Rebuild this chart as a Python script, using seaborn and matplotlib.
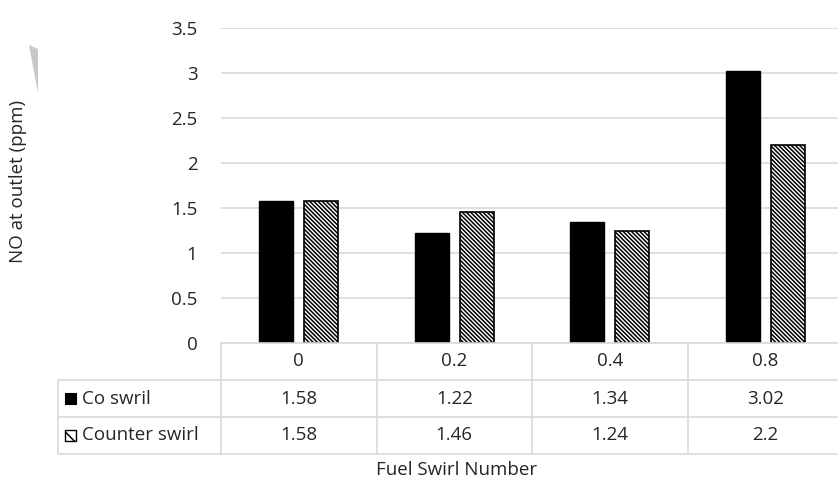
import numpy as np
import pandas as pd
import seaborn as sns
import matplotlib.pyplot as plt
from matplotlib.patches import Rectangle, Polygon

categories = ["0", "0.2", "0.4", "0.8"]
co_swirl = [1.58, 1.22, 1.34, 3.02]
counter_swirl = [1.58, 1.46, 1.24, 2.2]
series_names = ["Co swril", "Counter swirl"]
y_ticks = [0, 0.5, 1, 1.5, 2, 2.5, 3, 3.5]
y_label = "NO at outlet (ppm)"
x_label = "Fuel Swirl Number"

df = pd.DataFrame({
    "cat": categories * 2,
    "val": co_swirl + counter_swirl,
    "series": [series_names[0]] * 4 + [series_names[1]] * 4,
})

sns.set_theme(style="white")
plt.rcParams['font.family'] = ['Open Sans', 'DejaVu Sans']
plt.rcParams['hatch.linewidth'] = 1.1
txt_color = '#262626'
grid_color = '#d9d9d9'
fs = 13.5

W, H = 838, 482
fig = plt.figure(figsize=(W / 100, H / 100), dpi=100)

ax_left, ax_right = 221, 843
ax_top, ax_bottom = 28, 343
ax = fig.add_axes([ax_left / W, 1 - ax_bottom / H, (ax_right - ax_left) / W, (ax_bottom - ax_top) / H])

sns.barplot(data=df, x="cat", y="val", hue="series", order=categories,
            hue_order=series_names, palette=["black", "white"],
            width=0.58, gap=0.24, ax=ax, legend=False, saturation=1)

for p in ax.containers[0]:
    p.set_facecolor("black")
    p.set_edgecolor("black")
for p in ax.containers[1]:
    p.set_facecolor("white")
    p.set_edgecolor("black")
    p.set_hatch("\\" * 8)
    p.set_linewidth(1.2)

ax.set_xlim(-0.5, 3.5)
ax.set_ylim(0, 3.5)
ax.set_yticks(y_ticks)
ax.set_yticklabels([f"{t:g}" for t in y_ticks], fontsize=fs, color=txt_color)
ax.set_xticks([])
ax.set_xlabel("")
ax.set_ylabel("")
ax.tick_params(axis='y', length=0, pad=17)
ax.yaxis.grid(True, color=grid_color, linewidth=1.2)
ax.set_axisbelow(True)
for s in ax.spines.values():
    s.set_visible(False)

# Data table
units_per_px = 1 / (ax_right - ax_left) * 4
tab_left_px = 58
tab_x0 = -0.5 - (ax_left - tab_left_px) * units_per_px
row_h = 37
tab_bottom = ax_bottom + 3 * row_h
tax = fig.add_axes([tab_left_px / W, 1 - tab_bottom / H, (ax_right - tab_left_px) / W, (tab_bottom - ax_bottom) / H])
tax.set_xlim(tab_x0, 3.5)
tax.set_ylim(3, 0)
tax.axis("off")

lw = 1.2
tax.plot([-0.5, 3.5], [0, 0], color=grid_color, lw=lw, clip_on=False)
for r in [1, 2, 3]:
    tax.plot([tab_x0, 3.5], [r, r], color=grid_color, lw=lw, clip_on=False)
tax.plot([tab_x0, tab_x0], [1, 3], color=grid_color, lw=lw, clip_on=False)
for i in range(len(categories)):
    tax.plot([i - 0.5, i - 0.5], [0, 3], color=grid_color, lw=lw, clip_on=False)

for i, c in enumerate(categories):
    tax.text(i, 0.5, c, ha="center", va="center", fontsize=fs, color=txt_color)
    tax.text(i, 1.5, f"{co_swirl[i]:g}", ha="center", va="center", fontsize=fs, color=txt_color)
    tax.text(i, 2.5, f"{counter_swirl[i]:g}", ha="center", va="center", fontsize=fs, color=txt_color)

key_x = tab_x0 + 7 * units_per_px
key_w = 11 * units_per_px
key_h = 11 / row_h
tax.add_patch(Rectangle((key_x, 1.5 - key_h / 2), key_w, key_h, facecolor="black", edgecolor="black", lw=0.8))
tax.add_patch(Rectangle((key_x, 2.5 - key_h / 2), key_w, key_h, facecolor="white", edgecolor="black", lw=1.0, hatch="\\\\"))
lab_x = tab_x0 + 24 * units_per_px
tax.text(lab_x, 1.5, series_names[0], ha="left", va="center", fontsize=fs, color=txt_color)
tax.text(lab_x, 2.5, series_names[1], ha="left", va="center", fontsize=fs, color=txt_color)

fig.text(457 / W, 1 - 470 / H, x_label, ha="center", va="center", fontsize=fs, color=txt_color)
fig.text(18 / W, 1 - 181 / H, y_label, ha="center", va="center", rotation=90, fontsize=fs, color=txt_color)

# small grey scan artifact at top-left
fig.patches.append(Polygon([[29 / W, 1 - 45 / H], [38 / W, 1 - 49 / H], [38 / W, 1 - 93 / H]],
                           closed=True, transform=fig.transFigure, facecolor="#c8c8c8", edgecolor="none"))

fig.savefig("out.png", dpi=100, facecolor="white")
